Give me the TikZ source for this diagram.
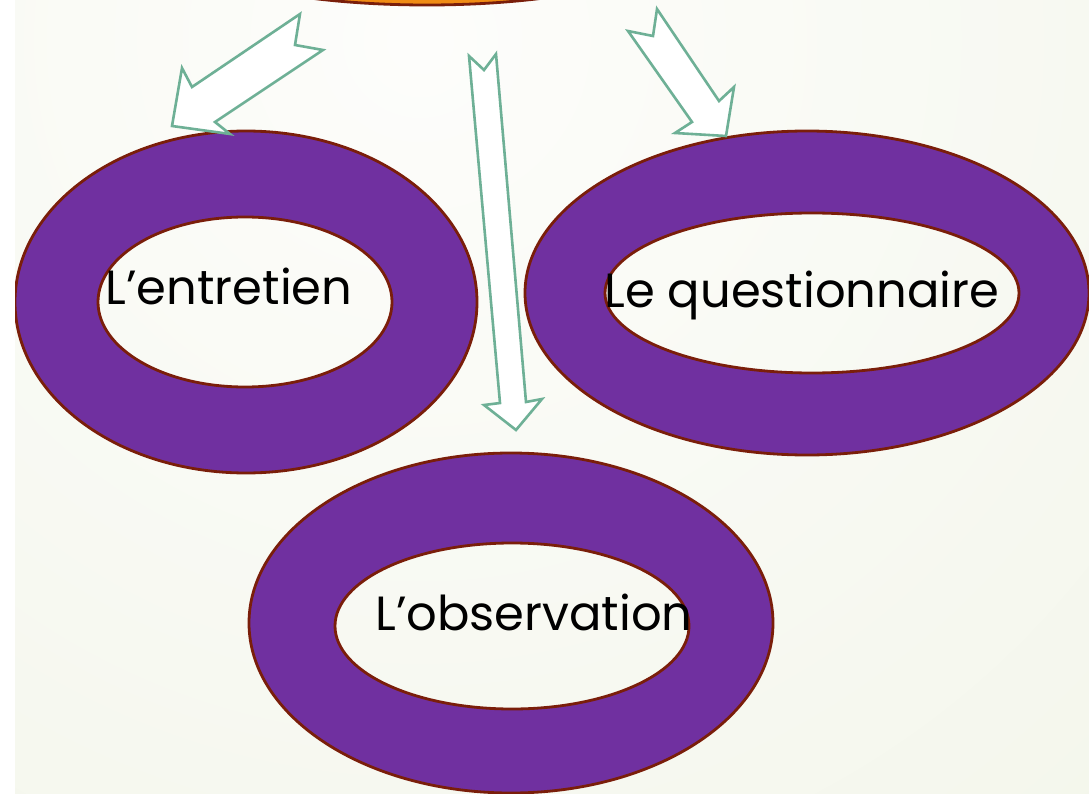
\documentclass[tikz,border=0pt]{standalone}
\usepackage{fontspec}
\setmainfont{Poppins}
\definecolor{bgin}{RGB}{253,253,251}
\definecolor{bgout}{RGB}{238,242,226}
\definecolor{ringpurple}{RGB}{112,48,160}
\definecolor{ringline}{RGB}{122,30,10}
\definecolor{arrowline}{RGB}{110,176,150}
\definecolor{topfill}{RGB}{240,140,20}
\tikzset{
  ring/.style={fill=ringpurple, even odd rule, draw=ringline, line width=2.8pt},
  blockarrow/.style={fill=white, draw=arrowline, line width=2.6pt, line join=miter},
  label/.style={font=\fontsize{48}{48}\selectfont, text=black, inner sep=0pt, anchor=base}
}
\begin{document}
\begin{tikzpicture}[x=1pt,y=-1pt]
\useasboundingbox (0,0) rectangle (1089,794);
\fill[white] (0,0) rectangle (15,794);
\begin{scope}
  \clip (15,0) rectangle (1089,794);
  \shade[inner color=bgin, outer color=bgout] (420,40) circle (1700pt);
  % top shape (partly visible)
  \path[fill=topfill, draw=ringline, line width=2.8pt] (427,-55) ellipse [x radius=250pt, y radius=60pt];
  % rings
  \path[ring] (246,302) ellipse [x radius=231pt, y radius=171pt]
              (245,302) ellipse [x radius=147pt, y radius=85pt];
  \path[ring] (807,293) ellipse [x radius=282pt, y radius=162pt]
              (812,293) ellipse [x radius=207pt, y radius=80pt];
  \path[ring] (511,623) ellipse [x radius=262pt, y radius=170pt]
              (512,626) ellipse [x radius=177pt, y radius=83pt];
\end{scope}
% labels
\node[label] (entretien) at (229,305) {L’entretien};
\node[label] (questionnaire) at (802,307) {Le questionnaire};
\node[label] (observation) at (534,630) {L’observation};
% left arrow
\coordinate (a1t1) at (300,14);
\coordinate (a1n) at (295,45);
\coordinate (a1t2) at (323,50);
\coordinate (a1s2) at (215,122);
\coordinate (a1b2) at (230,134);
\coordinate (a1tip) at (172,126);
\coordinate (a1b1) at (182,68);
\coordinate (a1s1) at (192,87);
\draw[blockarrow] (a1t1) -- (a1n) -- (a1t2) -- (a1s2) -- (a1b2) -- (a1tip) -- (a1b1) -- (a1s1) -- cycle;
% middle arrow
\coordinate (a2t1) at (469,56);
\coordinate (a2n) at (484,70);
\coordinate (a2t2) at (496,54);
\coordinate (a2s2) at (526,402);
\coordinate (a2b2) at (542,399);
\coordinate (a2tip) at (516,430);
\coordinate (a2b1) at (484,405);
\coordinate (a2s1) at (500,403);
\draw[blockarrow] (a2t1) -- (a2n) -- (a2t2) -- (a2s2) -- (a2b2) -- (a2tip) -- (a2b1) -- (a2s1) -- cycle;
% right arrow
\coordinate (a3t1) at (657,9);
\coordinate (a3n) at (653,36);
\coordinate (a3t2) at (628,31);
\coordinate (a3s2) at (692,122);
\coordinate (a3b2) at (675,133);
\coordinate (a3tip) at (726,136);
\coordinate (a3b1) at (734,87);
\coordinate (a3s1) at (719,101);
\draw[blockarrow] (a3t1) -- (a3n) -- (a3t2) -- (a3s2) -- (a3b2) -- (a3tip) -- (a3b1) -- (a3s1) -- cycle;
\end{tikzpicture}
\end{document}
